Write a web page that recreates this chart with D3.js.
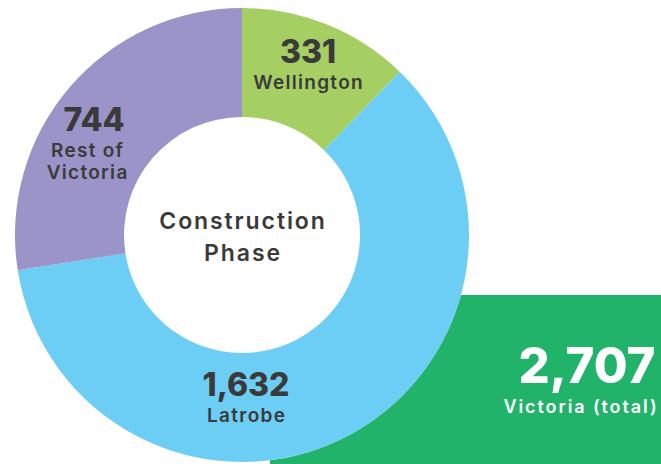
<!DOCTYPE html>
<html>
<head>
<meta charset="utf-8">
<script src="https://cdn.jsdelivr.net/npm/d3@7"></script>
<style>
  body { margin: 0; background: #fff; }
  svg { display: block; font-family: Inter, "Open Sans", sans-serif; }
</style>
</head>
<body>
<script>
var regions = ["Wellington", "Latrobe", "Rest of Victoria"];
var jobs = [331, 1632, 744];
var colours = ["#a5cf63", "#6dcef5", "#9b94c8"];
var totalLabel = "Victoria (total)";
var centreLabel = ["Construction", "Phase"];

var width = 661, height = 464;
var cx = 242, cy = 235;
var outer = 227, inner = 118;

var svg = d3.select("body").append("svg")
    .attr("width", width)
    .attr("height", height);

// green total box sits behind the donut
var back = svg.append("g").attr("class", "back");
back.append("rect")
    .attr("x", 270)
    .attr("y", 295)
    .attr("width", width - 270)
    .attr("height", height - 295)
    .attr("fill", "#22b36b");

var pie = d3.pie().sort(null).value(function(d) { return d; });
var arc = d3.arc().innerRadius(inner).outerRadius(outer);

var g = svg.append("g")
    .attr("transform", "translate(" + cx + "," + cy + ")");

// white disc so the box never shows through the hole
g.append("circle")
    .attr("r", outer)
    .attr("fill", "#fff");

g.selectAll("path.slice")
    .data(pie(jobs))
    .enter().append("path")
    .attr("class", "slice")
    .attr("d", arc)
    .attr("fill", function(d, i) { return colours[i]; });

var fmt = d3.format(",");

// label positions (offsets from donut centre)
var labelPos = [
    {x: 66, y: -172, lines: ["Wellington"]},
    {x: 4, y: 161, lines: ["Latrobe"]},
    {x: -148, y: -104, lines: ["Rest of", "Victoria"]}
];

labelPos.forEach(function(p, i) {
    g.append("text")
        .attr("x", p.x)
        .attr("y", p.y)
        .attr("text-anchor", "middle")
        .attr("fill", "#3a3a3a")
        .attr("font-size", 32)
        .attr("font-weight", 800)
        .text(fmt(jobs[i]));
    p.lines.forEach(function(l, j) {
        g.append("text")
            .attr("x", (i == 2 ? p.x - 7 : p.x) + 0.6)
            .attr("y", p.y + 26 + j * 22)
            .attr("text-anchor", "middle")
            .attr("fill", "#3a3a3a")
            .attr("font-size", 19)
            .attr("font-weight", 600)
            .attr("letter-spacing", 1.3)
            .text(l);
    });
});

centreLabel.forEach(function(l, j) {
    g.append("text")
        .attr("x", 1)
        .attr("y", -6 + j * 32)
        .attr("text-anchor", "middle")
        .attr("fill", "#3a3a3a")
        .attr("font-size", 23)
        .attr("font-weight", 600)
        .attr("letter-spacing", 1.9)
        .text(l);
});

var total = d3.sum(jobs);

svg.append("text")
    .attr("x", 587)
    .attr("y", 383)
    .attr("text-anchor", "middle")
    .attr("fill", "#fff")
    .attr("font-size", 49)
    .attr("font-weight", 800)
    .text(fmt(total));

svg.append("text")
    .attr("x", 581)
    .attr("y", 413)
    .attr("text-anchor", "middle")
    .attr("fill", "#fff")
    .attr("font-size", 18)
    .attr("font-weight", 600)
    .attr("letter-spacing", 1.9)
    .text(totalLabel);
</script>
</body>
</html>
